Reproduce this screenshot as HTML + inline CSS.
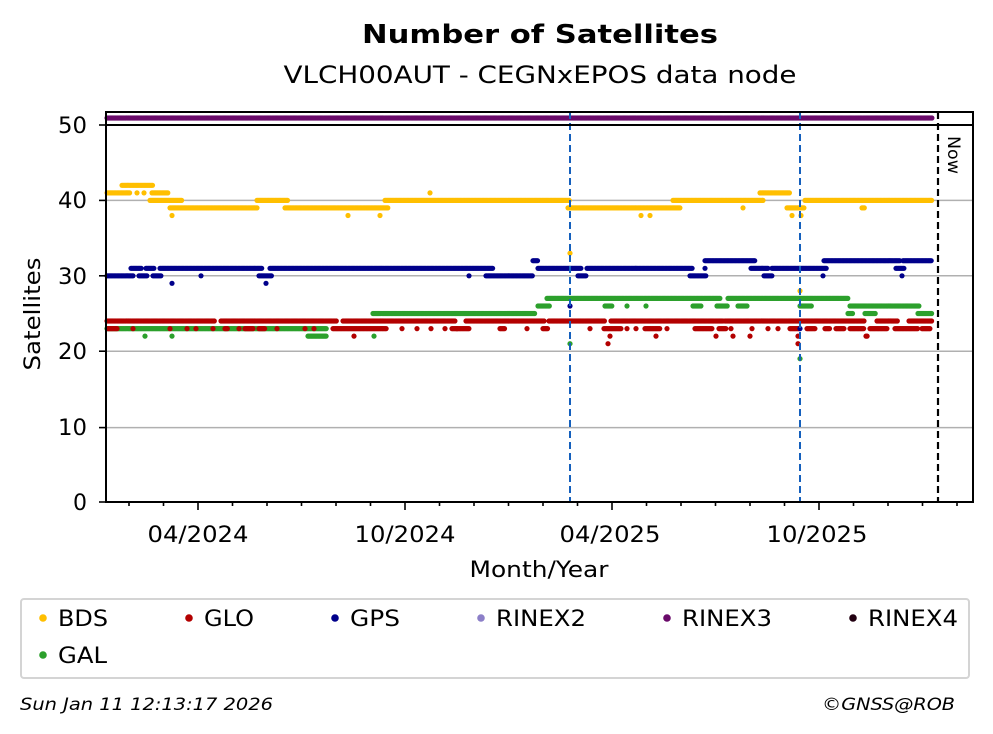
<!DOCTYPE html>
<html><head><meta charset="utf-8"><style>
body{margin:0;background:#fff;}
svg{display:block;font-family:"DejaVu Sans","Liberation Sans",sans-serif;}
</style></head><body>
<svg id="s" width="993" height="734" viewBox="0 0 993 734" xmlns="http://www.w3.org/2000/svg">
<rect width="993" height="734" fill="#fff"/>
<text x="540" y="43" text-anchor="middle" font-size="26" font-weight="bold" textLength="356" lengthAdjust="spacingAndGlyphs">Number of Satellites</text>
<text x="540" y="83" text-anchor="middle" font-size="24" textLength="513" lengthAdjust="spacingAndGlyphs">VLCH00AUT - CEGNxEPOS data node</text>
<g stroke="#b0b0b0" stroke-width="1.5">
<line x1="106" x2="973" y1="427.6" y2="427.6"/>
<line x1="106" x2="973" y1="351.2" y2="351.2"/>
<line x1="106" x2="973" y1="275.8" y2="275.8"/>
<line x1="106" x2="973" y1="200.4" y2="200.4"/>
</g>
<g id="dots"></g>
<line x1="570" x2="570" y1="112" y2="502" stroke="#1560bd" stroke-width="2" stroke-dasharray="7,4"/>
<line x1="800" x2="800" y1="112" y2="502" stroke="#1560bd" stroke-width="2" stroke-dasharray="7,4"/>
<line x1="938" x2="938" y1="112" y2="502" stroke="#000" stroke-width="2.2" stroke-dasharray="7,4"/>
<text transform="translate(948,136) rotate(90)" font-size="17" textLength="38" lengthAdjust="spacingAndGlyphs">Now</text>
<rect x="106" y="112" width="867" height="390" fill="none" stroke="#000" stroke-width="2"/>
<line x1="106" x2="973" y1="125" y2="125" stroke="#000" stroke-width="2"/>
<g stroke="#000" stroke-width="1.6" id="ticks">
<line x1="99" x2="106" y1="502" y2="502"/><line x1="99" x2="106" y1="427.6" y2="427.6"/>
<line x1="99" x2="106" y1="351.2" y2="351.2"/><line x1="99" x2="106" y1="275.8" y2="275.8"/>
<line x1="99" x2="106" y1="200.4" y2="200.4"/><line x1="99" x2="106" y1="125" y2="125"/>
</g>
<g font-size="22" text-anchor="end">
<text x="87" y="510">0</text><text x="87" y="435" textLength="29" lengthAdjust="spacingAndGlyphs">10</text><text x="87" y="359" textLength="29" lengthAdjust="spacingAndGlyphs">20</text>
<text x="87" y="284" textLength="29" lengthAdjust="spacingAndGlyphs">30</text><text x="87" y="208" textLength="29" lengthAdjust="spacingAndGlyphs">40</text><text x="87" y="133" textLength="29" lengthAdjust="spacingAndGlyphs">50</text>
</g>
<g font-size="22" text-anchor="middle">
<text x="198" y="542" textLength="101" lengthAdjust="spacingAndGlyphs">04/2024</text><text x="405" y="542" textLength="101" lengthAdjust="spacingAndGlyphs">10/2024</text>
<text x="610" y="542" textLength="101" lengthAdjust="spacingAndGlyphs">04/2025</text><text x="817" y="542" textLength="101" lengthAdjust="spacingAndGlyphs">10/2025</text>
<text x="539" y="577" textLength="139" lengthAdjust="spacingAndGlyphs">Month/Year</text>
</g>
<text transform="translate(40,314) rotate(-90)" text-anchor="middle" font-size="22" textLength="113" lengthAdjust="spacingAndGlyphs">Satellites</text>
<rect x="21" y="599" width="948" height="79" rx="3" fill="#fff" stroke="#d4d4d4" stroke-width="2"/>
<g font-size="22">
<circle cx="43" cy="618" r="3.8" fill="#ffbf00"/><text x="58" y="626" textLength="50" lengthAdjust="spacingAndGlyphs">BDS</text>
<circle cx="189" cy="618" r="3.8" fill="#b30000"/><text x="204" y="626" textLength="50" lengthAdjust="spacingAndGlyphs">GLO</text>
<circle cx="335" cy="618" r="3.8" fill="#00008b"/><text x="350" y="626" textLength="50" lengthAdjust="spacingAndGlyphs">GPS</text>
<circle cx="481" cy="618" r="3.8" fill="#8c7fc8"/><text x="496" y="626" textLength="90" lengthAdjust="spacingAndGlyphs">RINEX2</text>
<circle cx="667" cy="618" r="3.8" fill="#6a0a6a"/><text x="682" y="626" textLength="90" lengthAdjust="spacingAndGlyphs">RINEX3</text>
<circle cx="853" cy="618" r="3.8" fill="#220011"/><text x="868" y="626" textLength="90" lengthAdjust="spacingAndGlyphs">RINEX4</text>
<circle cx="43" cy="655" r="3.8" fill="#2ca02c"/><text x="58" y="663" textLength="49" lengthAdjust="spacingAndGlyphs">GAL</text>
</g>
<text x="20" y="710" font-size="17" font-style="italic" textLength="253" lengthAdjust="spacingAndGlyphs">Sun Jan 11 12:13:17 2026</text>
<text x="955" y="710" font-size="17" font-style="italic" text-anchor="end" textLength="133" lengthAdjust="spacingAndGlyphs">©GNSS@ROB</text>
</svg>
<script>
var NS="http://www.w3.org/2000/svg",g=document.getElementById("dots"),tk=document.getElementById("ticks");
for(var m=-3;m<=25;m++){var x=198+m*34.5;if(x<106||x>973)continue;var l=document.createElementNS(NS,"line");
l.setAttribute("x1",x);l.setAttribute("x2",x);l.setAttribute("y1",502);l.setAttribute("y2",m%6==0?510:506);tk.appendChild(l);}
function Y(v){return 502-v*7.54;}
function run(c,a,b,v){for(var x=a;x<=b;x+=1.13){var e=document.createElementNS(NS,"circle");e.setAttribute("cx",x.toFixed(1));e.setAttribute("cy",(v==51?118:Y(v)).toFixed(1));e.setAttribute("r","2.6");e.setAttribute("fill",c);g.appendChild(e);}}
function pts(c,xs,v){xs.forEach(function(x){run(c,x,x,v);});}
var P="#6a0a6a",B="#ffbf00",R="#b30000",G="#00008b",N="#2ca02c";
run(P,107,932,51);
run(N,107,327,23);pts(N,[145,172],22);run(N,308,327,22);pts(N,[374],22);
run(N,373,535,25);run(N,538,550,26);run(N,547,720,27);run(N,728,848,27);
run(N,605,612,26);pts(N,[627,646],26);run(N,693,702,26);run(N,717,728,26);run(N,738,748,26);
pts(N,[570],21);pts(N,[800],19);run(N,800,812,26);run(N,850,920,26);run(N,848,853,25);run(N,865,876,25);run(N,918,932,25);
run(R,107,215,24);run(R,221,337,24);run(R,343,455,24);run(R,466,545,24);run(R,549,605,24);run(R,611,723,24);run(R,725,865,24);run(R,877,898,24);run(R,909,932,24);
run(R,108,118,23);pts(R,[133,170,187,196,213,239,277,305,314,402,417,431,445,457,527],23);
run(R,225,228,23);run(R,245,253,23);run(R,259,265,23);run(R,333,387,23);run(R,452,470,23);run(R,500,505,23);run(R,543,548,23);
pts(R,[354],22);
pts(R,[590,627,636,667,731,752,768,778],23);run(R,604,622,23);run(R,645,660,23);run(R,695,712,23);run(R,719,726,23);
run(R,790,800,23);run(R,807,815,23);run(R,825,830,23);run(R,836,845,23);run(R,850,864,23);run(R,870,888,23);run(R,895,918,23);run(R,922,930,23);
pts(R,[610,656,716,733,750,798],22);run(R,866,868,22);pts(R,[608,798],21);
run(G,107,133,30);run(G,131,142,31);run(G,139,148,30);run(G,146,155,31);run(G,153,162,30);run(G,160,262,31);run(G,259,272,30);
pts(G,[172,266],29);pts(G,[201,469],30);run(G,270,493,31);run(G,486,533,30);run(G,533,538,32);run(G,538,581,31);pts(G,[570],26);
run(G,578,586,30);run(G,587,693,31);run(G,690,706,30);run(G,705,755,32);pts(G,[705],31);run(G,751,768,31);run(G,764,773,30);
run(G,772,827,31);run(G,824,900,32);run(G,896,905,31);run(G,903,932,32);pts(G,[823,902],30);pts(G,[800],23);
run(B,107,130,41);pts(B,[137,144],41);run(B,122,153,42);run(B,152,168,41);run(B,150,182,40);run(B,170,258,39);run(B,257,288,40);
run(B,285,388,39);run(B,385,570,40);pts(B,[172,348,380],38);pts(B,[430],41);
run(B,568,680,39);run(B,673,763,40);run(B,760,790,41);run(B,787,805,39);run(B,805,932,40);pts(B,[763],40);
pts(B,[641,650,792,801],38);pts(B,[743],39);run(B,862,865,39);pts(B,[570],33);pts(B,[800],28);
</script>
</body></html>
